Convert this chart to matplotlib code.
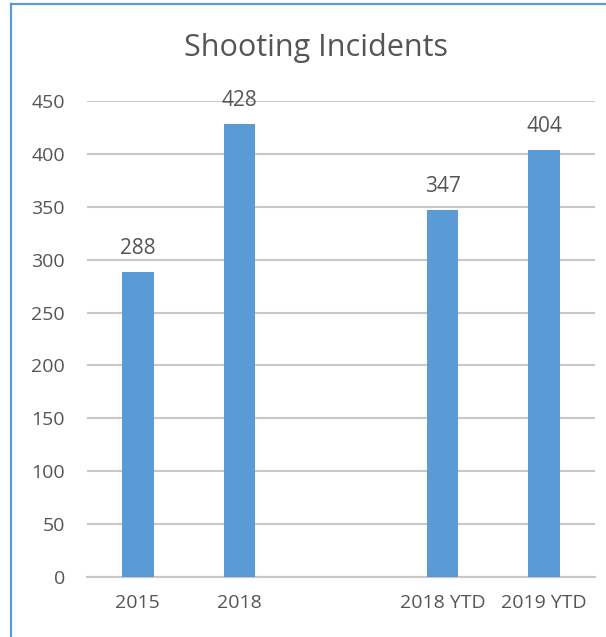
import matplotlib
matplotlib.use("Agg")
from matplotlib import pyplot as plt
from matplotlib.lines import Line2D
import numpy as np

categories = ["2015", "2018", "", "2018 YTD", "2019 YTD"]
values = [288, 428, None, 347, 404]
yticks = [0, 50, 100, 150, 200, 250, 300, 350, 400, 450]
title = "Shooting Incidents"

bar_color = "#5B9BD5"
text_color = "#555555"
grid_color = "#C8C8C8"

plt.rcParams["font.family"] = ["Open Sans", "DejaVu Sans"]

W, H = 606, 637
fig = plt.figure(figsize=(W / 100, H / 100), dpi=100)
fig.patch.set_facecolor("white")

# plot area in pixels: x 87..595, y 101 (450) .. 577 (0)
ax = fig.add_axes([87 / W, 1 - 577 / H, (595 - 87) / W, (577 - 101) / H])

x = np.arange(len(categories))
for xi, v in zip(x, values):
    if v is None:
        continue
    ax.bar(xi, v, width=0.31, color=bar_color, zorder=3)
    ax.annotate(str(v), (xi, v), xytext=(0, 13), textcoords="offset points",
                ha="center", va="baseline", fontsize=15, color=text_color)

ax.set_xlim(-0.5, len(categories) - 0.5)
ax.set_ylim(0, 450)
ax.set_yticks(yticks)
ax.set_xticks(x)
ax.set_xticklabels(categories)
ax.yaxis.grid(True, color=grid_color, linewidth=1.5, zorder=0)
ax.set_axisbelow(True)
for side in ["left", "right", "top"]:
    ax.spines[side].set_visible(False)
ax.spines["bottom"].set_color(grid_color)
ax.spines["bottom"].set_linewidth(1.5)
ax.tick_params(axis="both", length=0, labelsize=14, labelcolor=text_color)
ax.tick_params(axis="y", pad=16)
ax.tick_params(axis="x", pad=12)

fig.text(316 / W, 1 - 48 / H, title, ha="center", va="center",
         fontsize=22, color=text_color)

# chart frame (top and left edges)
fig.add_artist(Line2D([11 / W, 11 / W], [0, 1 - 4 / H], transform=fig.transFigure,
                      color="#5B9BD5", linewidth=1.6))
fig.add_artist(Line2D([11 / W, 1], [1 - 4 / H, 1 - 4 / H], transform=fig.transFigure,
                      color="#5B9BD5", linewidth=1.6))

fig.savefig("out.png", dpi=100, facecolor="white")
